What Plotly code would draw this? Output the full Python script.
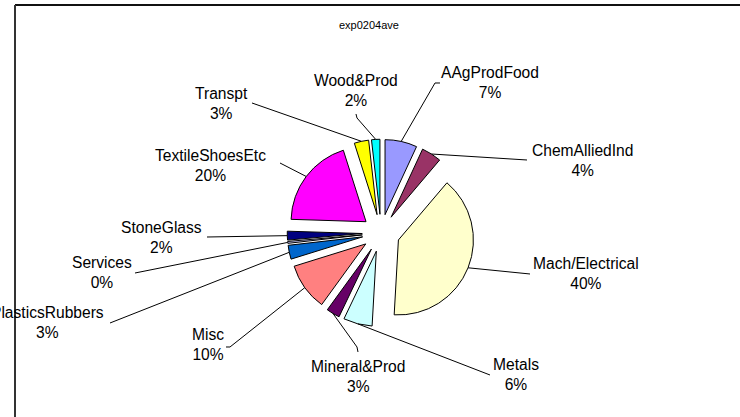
import math
import plotly.graph_objects as go

# ---- data ----
categories = ["AAgProdFood", "ChemAlliedInd", "Mach/Electrical", "Metals", "Mineral&Prod",
              "Misc", "PlasticsRubbers", "Services", "StoneGlass", "TextileShoesEtc",
              "Transpt", "Wood&Prod"]
shares = [6.9, 4.3, 39.7, 6.2, 2.9, 10.2, 3.0, 0.4, 1.9, 19.6, 3.1, 1.8]
colors = ["#9999FF", "#993366", "#FFFFCC", "#CCFFFF", "#660066", "#FF8080",
          "#0066CC", "#CCCCFF", "#000080", "#FF00FF", "#FFFF00", "#00FFFF"]
title_text = "exp0204ave"

# ---- layout constants (pixels) ----
W, H = 740, 417
CX, CY = 381, 233          # pie centre
R = 75                     # pie radius
PULL = 0.25
BOX = 2 * R * (1 + PULL)
LABEL_SIZE = 15.6

# label centres (px) and leader-line end points (px)
label_pos = {
    "AAgProdFood": (490, 82),
    "ChemAlliedInd": (582, 160),
    "Mach/Electrical": (586, 273),
    "Metals": (516, 374),
    "Mineral&Prod": (358, 376),
    "Misc": (208, 344),
    "PlasticsRubbers": (47, 322),
    "Services": (102, 272),
    "StoneGlass": (161, 237),
    "TextileShoesEtc": (211, 165),
    "Transpt": (221, 103),
    "Wood&Prod": (356, 91),
}
leader_end = {
    "AAgProdFood": [(435, 83), (440, 83)],
    "ChemAlliedInd": [(527, 160)],
    "Mach/Electrical": [(530, 274)],
    "Metals": [(490, 375)],
    "Mineral&Prod": [(357, 347), (358, 352)],
    "Misc": [(230, 347), (226, 347)],
    "PlasticsRubbers": [(110, 323)],
    "Services": [(135, 273)],
    "StoneGlass": [(207, 237)],
    "TextileShoesEtc": [(280, 163)],
    "Transpt": [(252, 103)],
    "Wood&Prod": [(357, 118), (356, 114)],
}

def px(x):
    return x / W

def py(y):
    return 1 - y / H

total = sum(shares)
fig = go.Figure(go.Pie(
    labels=categories,
    values=shares,
    sort=False,
    direction="clockwise",
    rotation=0,
    pull=[PULL] * len(shares),
    marker=dict(colors=colors, line=dict(color="black", width=1)),
    textinfo="none",
    hoverinfo="label+percent",
    showlegend=False,
    domain=dict(x=[px(CX - BOX / 2), px(CX + BOX / 2)],
                y=[py(CY + BOX / 2), py(CY - BOX / 2)]),
))

annotations = []
shapes = []
cum = 0.0
for name, v in zip(categories, shares):
    mid = (cum + v / 2) / total * 2 * math.pi
    cum += v
    rr = R * (1 + PULL)
    sx = CX + rr * math.sin(mid)
    sy = CY - rr * math.cos(mid)
    pts = [(sx, sy)] + leader_end[name]
    path = "M " + " L ".join(f"{px(x):.5f},{py(y):.5f}" for x, y in pts)
    shapes.append(dict(type="path", path=path, xref="paper", yref="paper",
                       line=dict(color="black", width=1)))
    pct = round(v / total * 100)
    lx, ly = label_pos[name]
    annotations.append(dict(x=px(lx), y=py(ly), xref="paper", yref="paper",
                            text=f"{name}<br>{pct}%", showarrow=False,
                            xanchor="center", yanchor="middle",
                            font=dict(family="Liberation Sans, Arial", size=LABEL_SIZE,
                                      color="black")))

annotations.append(dict(x=px(369), y=py(25), xref="paper", yref="paper", text=title_text,
                        showarrow=False, xanchor="center", yanchor="middle",
                        font=dict(family="Liberation Sans, Arial", size=11, color="black")))

# chart-area frame: top and left edges (others lie outside the view)
shapes.append(dict(type="line", xref="paper", yref="paper",
                   x0=px(15), x1=1, y0=py(5), y1=py(5),
                   line=dict(color="#111111", width=2)))
shapes.append(dict(type="line", xref="paper", yref="paper",
                   x0=px(15), x1=px(15), y0=py(5), y1=0,
                   line=dict(color="#333333", width=2)))

fig.update_layout(
    width=W, height=H,
    margin=dict(l=0, r=0, t=0, b=0),
    paper_bgcolor="white", plot_bgcolor="white",
    annotations=annotations, shapes=shapes,
)

fig.write_html(
    "out.html",
    config={"displayModeBar": False},
    post_script="document.body.style.margin='0';document.body.style.overflow='hidden';",
)
